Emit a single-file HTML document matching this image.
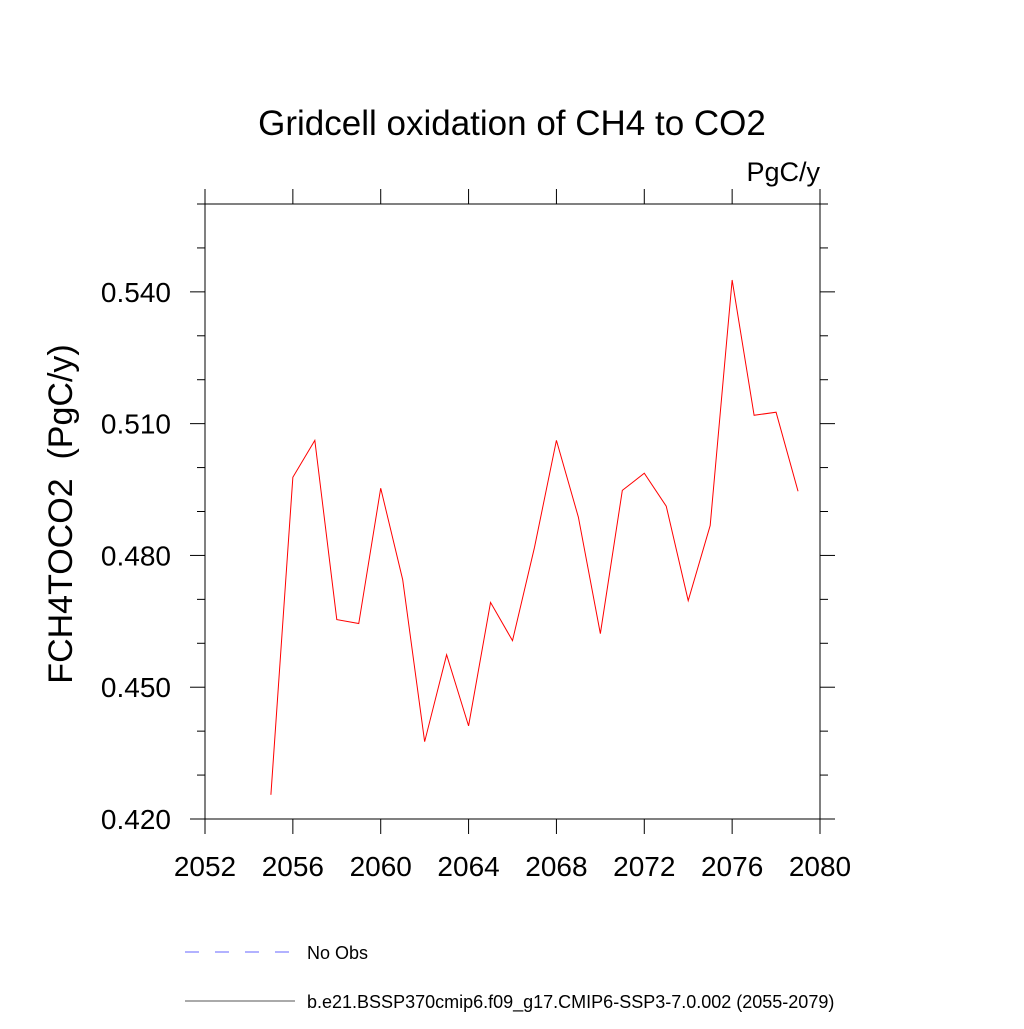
<!DOCTYPE html>
<html><head><meta charset="utf-8"><style>
body{margin:0;background:#fff}
svg text{font-family:"Liberation Sans",sans-serif}
</style></head><body>
<svg id="chart" width="1024" height="1024" xmlns="http://www.w3.org/2000/svg">
<text x="512" y="135" font-size="35" text-anchor="middle">Gridcell oxidation of CH4 to CO2</text>
<text x="820" y="181" font-size="27" text-anchor="end">PgC/y</text>
<text transform="translate(72,514) rotate(-90)" font-size="34" text-anchor="middle" style="white-space:pre" xml:space="preserve">FCH4TOCO2  (PgC/y)</text>
<g id="axes"></g>
<polyline id="series" fill="none" stroke="#ff0000" stroke-width="1"/>
<line x1="185" y1="952" x2="295" y2="952" stroke="#6666ff" stroke-dasharray="14,16"/>
<text x="307" y="959" font-size="18">No Obs</text>
<line x1="185" y1="1001" x2="295" y2="1001" stroke="#555"/>
<text x="307" y="1008" font-size="18">b.e21.BSSP370cmip6.f09_g17.CMIP6-SSP3-7.0.002 (2055-2079)</text>
</svg>
<script>
const years=[2055,2056,2057,2058,2059,2060,2061,2062,2063,2064,2065,2066,2067,2068,2069,2070,2071,2072,2073,2074,2075,2076,2077,2078,2079];
const values=[0.4255,0.4978,0.5062,0.4654,0.4645,0.4953,0.4745,0.4376,0.4574,0.4412,0.4693,0.4606,0.4818,0.5062,0.4887,0.4622,0.4948,0.4987,0.4912,0.4697,0.4868,0.5427,0.5119,0.5126,0.4946];
const xTicks=[2052,2056,2060,2064,2068,2072,2076,2080];
const yTicks=[0.42,0.45,0.48,0.51,0.54];
const yMinor=[0.43,0.44,0.46,0.47,0.49,0.50,0.52,0.53,0.55,0.56];
const X0=205,X1=820,Y0=819,Y1=204;
const xs=v=>X0+(v-2052)/(2080-2052)*(X1-X0);
const ys=v=>Y0-(v-0.42)/(0.56-0.42)*(Y0-Y1);
const NS='http://www.w3.org/2000/svg';
const g=document.getElementById('axes');
function ln(x1,y1,x2,y2,name){const l=document.createElementNS(NS,'line');
l.setAttribute('x1',x1);l.setAttribute('y1',y1);l.setAttribute('x2',x2);l.setAttribute('y2',y2);
l.setAttribute('stroke','#000');l.setAttribute('stroke-width','1');


g.appendChild(l);}
function tx(x,y,s,anchor,name){const t=document.createElementNS(NS,'text');
t.setAttribute('x',x);t.setAttribute('y',y);t.setAttribute('font-size','28');t.setAttribute('text-anchor',anchor);t.textContent=s;


g.appendChild(t);}
const r=document.createElementNS(NS,'rect');
r.setAttribute('x',X0);r.setAttribute('y',Y1);r.setAttribute('width',X1-X0);r.setAttribute('height',Y0-Y1);
r.setAttribute('fill','none');r.setAttribute('stroke','#000');


g.appendChild(r);
xTicks.forEach(v=>{const x=xs(v);ln(x,Y0,x,Y0+15,'x-tick');ln(x,Y1,x,Y1-15,'x-tick-top');tx(x,Y0+57,String(v),'middle','x-tick-label');});
yTicks.forEach(v=>{const y=ys(v);ln(X0-15,y,X0,y,'y-tick');ln(X1,y,X1+15,y,'y-tick-right');tx(171,y+10,v.toFixed(3),'end','y-tick-label');});
yMinor.forEach(v=>{const y=ys(v);ln(X0-8,y,X0,y,'y-minor-tick');ln(X1,y,X1+8,y,'y-minor-tick-right');});
document.getElementById('series').setAttribute('points',years.map((y,i)=>xs(y)+','+ys(values[i])).join(' '));
</script>
</body></html>
